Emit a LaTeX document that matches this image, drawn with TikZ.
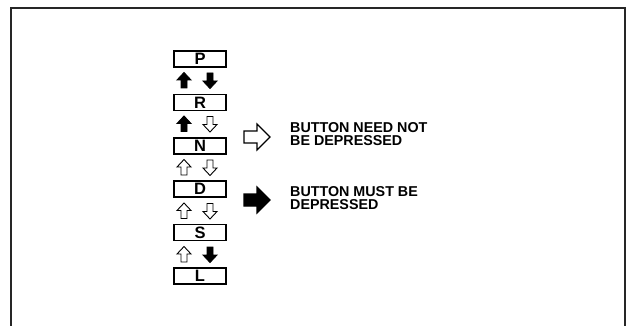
\documentclass[tikz,border=0pt]{standalone}
\usepackage{fontspec}
\setmainfont{Liberation Sans}
\begin{document}
\begin{tikzpicture}[x=1pt,y=-1pt,
  gear/.style={draw=black,line width=1.3pt,minimum width=52pt,minimum height=16pt,inner sep=0pt,font=\fontsize{16.5}{16}\selectfont\bfseries},
  legend/.style={anchor=west,align=left,inner sep=0pt,font=\fontsize{14.3}{13.5}\selectfont\bfseries},
  frame/.style={draw=black!85,line width=1.2pt},
  pics/vupfill/.style={code={\filldraw[line width=0.9pt,line join=miter] (0,-8) -- (7,-0.5) -- (3,-0.5) -- (3,7.5) -- (-3,7.5) -- (-3,-0.5) -- (-7,-0.5) -- cycle;}},
  pics/vupopen/.style={code={\draw[line width=0.9pt,fill=white,line join=miter] (0,-8) -- (7,-0.5) -- (3,-0.5) -- (3,7.5) -- (-3,7.5) -- (-3,-0.5) -- (-7,-0.5) -- cycle;}},
  pics/hrarrow/.style={code={\draw[line width=1.1pt,line join=miter,#1] (-13,-6) -- (0,-6) -- (0,-13) -- (13,0) -- (0,13) -- (0,6) -- (-13,6) -- cycle;}}
]
\useasboundingbox (0,0) rectangle (626,326);
\draw[frame] (11,327) -- (11,8) -- (625,8) -- (625,327);

\foreach \n/\t/\yy in {p/P/59, r/R/102.5, n/N/146, d/D/189, s/S/232.5, l/L/276}{
  \node[gear] (\n) at (200,\yy) {\t};
}
% arrows between gears: up (left), down (right)
\pic at (184,80.5) {vupfill};
\pic[rotate=180] at (210,80.5) {vupfill};
\pic at (184,124) {vupfill};
\pic[rotate=180] at (210,124) {vupopen};
\pic at (184,167.5) {vupopen};
\pic[rotate=180] at (210,167.5) {vupopen};
\pic at (184,211) {vupopen};
\pic[rotate=180] at (210,211) {vupopen};
\pic at (184,254.5) {vupopen};
\pic[rotate=180] at (210,254.5) {vupfill};

% legend
\pic at (257,137) {hrarrow={fill=white}};
\pic at (257,200) {hrarrow={fill=black}};
\node[legend] (t1) at (290,134) {BUTTON NEED NOT\\BE DEPRESSED};
\node[legend] (t2) at (290,198) {BUTTON MUST BE\\DEPRESSED};
\end{tikzpicture}
\end{document}
